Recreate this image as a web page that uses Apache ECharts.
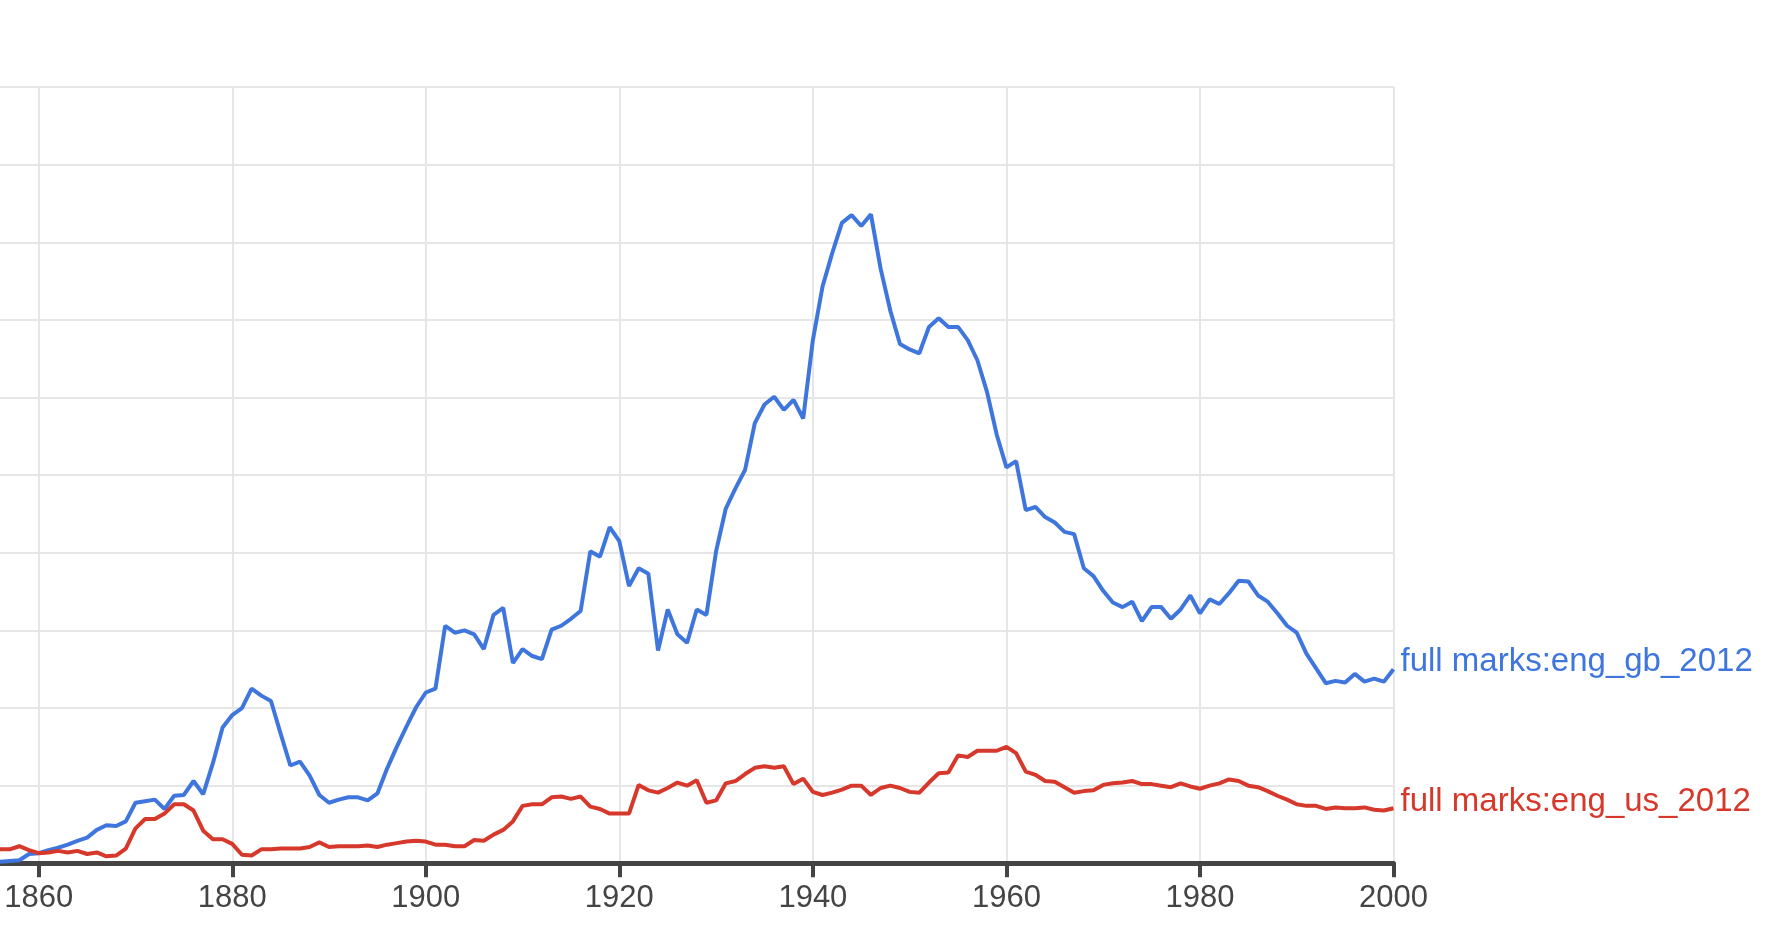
<!DOCTYPE html>
<html>
<head>
<meta charset="utf-8">
<script src="https://cdn.jsdelivr.net/npm/echarts@6/dist/echarts.min.js"></script>
<style>
  html, body { margin: 0; padding: 0; background: #ffffff; }
  #chart { width: 1786px; height: 938px; }
</style>
</head>
<body>
<div id="chart"></div>
<script>
const startYear = 1856;
const seriesNames = ['full marks:eng_gb_2012', 'full marks:eng_us_2012'];
const xTicks = [1860, 1880, 1900, 1920, 1940, 1960, 1980, 2000];

const gbValues = [
  0.02, 0.03, 0.04, 0.12, 0.13, 0.17, 0.20, 0.24, 0.29, 0.33,
  0.43, 0.49, 0.48, 0.54, 0.78, 0.80, 0.82, 0.70, 0.87, 0.88,
  1.06, 0.89, 1.29, 1.75, 1.91, 2.00, 2.25, 2.16, 2.09, 1.67,
  1.26, 1.31, 1.13, 0.88, 0.78, 0.82, 0.85, 0.85, 0.81, 0.90,
  1.22, 1.50, 1.76, 2.01, 2.20, 2.25, 3.06, 2.97, 3.00, 2.95,
  2.76, 3.20, 3.29, 2.58, 2.76, 2.67, 2.63, 3.01, 3.06, 3.15,
  3.25, 4.02, 3.95, 4.33, 4.15, 3.57, 3.80, 3.73, 2.74, 3.27,
  2.95, 2.84, 3.27, 3.20, 4.02, 4.57, 4.83, 5.07, 5.67, 5.91,
  6.01, 5.84, 5.97, 5.73, 6.74, 7.43, 7.86, 8.25, 8.35, 8.21,
  8.36, 7.66, 7.12, 6.69, 6.62, 6.57, 6.91, 7.02, 6.91, 6.91,
  6.74, 6.48, 6.07, 5.52, 5.10, 5.18, 4.55, 4.59, 4.46, 4.39,
  4.27, 4.24, 3.80, 3.70, 3.51, 3.36, 3.30, 3.37, 3.12, 3.30,
  3.30, 3.15, 3.27, 3.45, 3.22, 3.40, 3.34, 3.48, 3.64, 3.63,
  3.45, 3.37, 3.22, 3.06, 2.97, 2.70, 2.51, 2.32, 2.35, 2.33,
  2.44, 2.34, 2.38, 2.34, 2.50
];

const usValues = [
  0.18, 0.18, 0.22, 0.17, 0.13, 0.14, 0.16, 0.14, 0.16, 0.12,
  0.14, 0.09, 0.10, 0.19, 0.45, 0.57, 0.57, 0.64, 0.76, 0.76,
  0.68, 0.42, 0.31, 0.31, 0.25, 0.11, 0.10, 0.18, 0.18, 0.19,
  0.19, 0.19, 0.21, 0.27, 0.21, 0.22, 0.22, 0.22, 0.23, 0.21,
  0.24, 0.26, 0.28, 0.29, 0.28, 0.24, 0.24, 0.22, 0.22, 0.30,
  0.29, 0.37, 0.43, 0.54, 0.74, 0.76, 0.76, 0.85, 0.86, 0.83,
  0.86, 0.73, 0.70, 0.64, 0.64, 0.64, 1.01, 0.94, 0.91, 0.97,
  1.04, 1.00, 1.07, 0.78, 0.81, 1.03, 1.06, 1.15, 1.23, 1.25,
  1.23, 1.25, 1.02, 1.09, 0.92, 0.88, 0.91, 0.95, 1.00, 1.00,
  0.88, 0.97, 1.00, 0.97, 0.92, 0.91, 1.04, 1.16, 1.17, 1.39,
  1.37, 1.45, 1.45, 1.45, 1.50, 1.42, 1.18, 1.14, 1.06, 1.05,
  0.98, 0.91, 0.93, 0.94, 1.01, 1.03, 1.04, 1.06, 1.02, 1.02,
  1.00, 0.98, 1.03, 0.99, 0.96, 1.00, 1.03, 1.08, 1.06, 1.00,
  0.98, 0.93, 0.87, 0.82, 0.76, 0.74, 0.74, 0.70, 0.72, 0.71,
  0.71, 0.72, 0.69, 0.68, 0.71
];

const colors = ['#3f76de', '#d6382b'];

function pairs(values) {
  return values.map((v, i) => [startYear + i, v]);
}

const chart = echarts.init(document.getElementById('chart'), null, { renderer: 'canvas' });
const FONT = "'Liberation Sans', Arial, Helvetica, sans-serif";

chart.setOption({
  animation: false,
  backgroundColor: '#ffffff',
  grid: { left: 0, right: 392.5, top: 87, bottom: 74.7, containLabel: false },
  xAxis: {
    type: 'value',
    min: startYear,
    max: 2000,
    axisLine: { show: true, lineStyle: { color: '#444444', width: 5 } },
    axisTick: { show: true, length: 14, customValues: xTicks, lineStyle: { color: '#444444', width: 4 } },
    axisLabel: {
      color: '#444444', fontSize: 31, fontFamily: FONT, margin: 20,
      customValues: xTicks,
      formatter: function (v) { return String(v); }
    },
    splitLine: { show: true, lineStyle: { color: '#e6e6e6', width: 2 } }
  },
  yAxis: {
    type: 'value',
    min: 0,
    max: 10,
    interval: 1,
    axisLine: { show: false },
    axisTick: { show: false },
    axisLabel: { show: false },
    splitLine: { show: true, lineStyle: { color: '#e6e6e6', width: 2 } }
  },
  series: [
    {
      name: seriesNames[0],
      type: 'line',
      data: pairs(gbValues),
      showSymbol: false,
      lineStyle: { color: colors[0], width: 4 },
      itemStyle: { color: colors[0] },
      endLabel: {
        show: true, formatter: '{a}', color: colors[0], fontSize: 33, fontFamily: FONT,
        distance: 7, offset: [0, -7]
      }
    },
    {
      name: seriesNames[1],
      type: 'line',
      data: pairs(usValues),
      showSymbol: false,
      lineStyle: { color: colors[1], width: 4 },
      itemStyle: { color: colors[1] },
      endLabel: {
        show: true, formatter: '{a}', color: colors[1], fontSize: 33, fontFamily: FONT,
        distance: 7, offset: [0, -6]
      }
    }
  ]
});
</script>
</body>
</html>
